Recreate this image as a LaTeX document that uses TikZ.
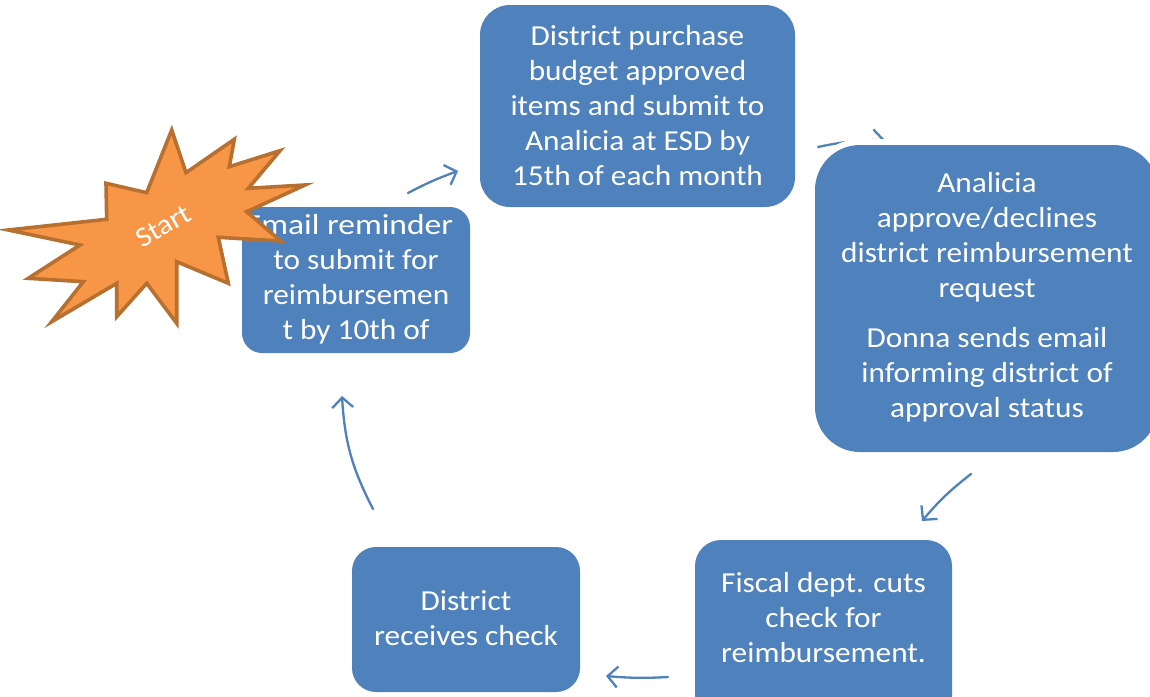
\documentclass[tikz,border=0pt]{standalone}
\usepackage{fontspec}
\setmainfont{Carlito}[FakeStretch=1.08]
\usetikzlibrary{arrows.meta}
\definecolor{boxblue}{HTML}{4F81BD}
\definecolor{starfill}{HTML}{F79646}
\definecolor{starline}{HTML}{B7702F}
\tikzset{
  stepbox/.style={fill=boxblue, preaction={draw=white, line width=12pt}, inner sep=0pt},
  boxtext/.style={text=white, align=center, font=\fontsize{29}{35}\selectfont, inner sep=0pt},
  flow/.style={draw=boxblue, line width=2.3pt, line cap=round, -{Straight Barb[length=10pt,width=21pt]}},
}
\begin{document}
\begin{tikzpicture}[x=1pt,y=-1pt]
\useasboundingbox (0,0) rectangle (1150,696);
\clip (0,0) rectangle (1150,696);
\fill[white] (0,0) rectangle (1150,696);

% connector end points
\coordinate (a1s) at (408,193);
\coordinate (a1e) at (458,171);
\coordinate (a2s) at (818,147);
\coordinate (a2e) at (885,140);
\coordinate (a3s) at (971,474);
\coordinate (a3e) at (922,521);
\coordinate (a4s) at (668,677);
\coordinate (a4e) at (606,676);
\coordinate (a5s) at (373,509);
\coordinate (a5e) at (342,396);

% connectors (drawn beneath the boxes)
\draw[flow] (a1s) to[bend left=4] (a1e);
\draw[flow] (a2s) to[bend left=6] (a2e);
\draw[flow] (a3s) to[bend right=6] (a3e);
\draw[flow] (a4s) to[bend left=4] (a4e);
\draw[flow] (a5s) to[bend left=12] (a5e);

% boxes
\node[stepbox, rounded corners=30pt, minimum width=315pt, minimum height=202pt] (purchase) at (637.5,106) {};
\node[boxtext] (purchasetext) at (637.5,106)
  {District purchase\\budget approved\\items and submit to\\Analicia at ESD by\\15th of each month};

\node[stepbox, rounded corners=45pt, minimum width=343pt, minimum height=307pt] (approve) at (986.5,298.5) {};
\node[boxtext] (approvetext) at (987,297)
  {Analicia\\approve/declines\\district reimbursement\\request\\[15pt]Donna sends email\\informing district of\\approval status};

\node[stepbox, rounded corners=26pt, minimum width=257pt, minimum height=190pt] (fiscal) at (823.5,635) {};
\node[boxtext] (fiscaltext) at (823.5,618)
  {Fiscal dept. cuts\\check for\\reimbursement.};

\node[stepbox, rounded corners=24pt, minimum width=228pt, minimum height=145pt] (receive) at (466,619.5) {};
\node[boxtext] (receivetext) at (466,618)
  {District\\receives check};

\node[stepbox, rounded corners=20pt, minimum width=228pt, minimum height=146pt] (remind) at (356,280) {};
\node[boxtext] (remindtext) at (356,279)
  {\hspace*{-14pt}\scalebox{1.07}[1]{Email reminder}\\to submit for\\reimbursemen\\t by 10th of};

% start star
\filldraw[fill=starfill, draw=starline, line width=3.6pt, line join=miter]
  (171.7,130) -- (186,172.7) -- (234.3,139.3) -- (229.3,166.7) -- (280,150.7)
  -- (248.3,188.3) -- (305,185) -- (246.7,211.7) -- (280.5,241) -- (218.3,237.3)
  -- (228.3,283.3) -- (176.7,261.7) -- (176.7,323.3) -- (146.7,283.3)
  -- (116.7,316.7) -- (116.7,283.3) -- (51.7,321.7) -- (83.3,281.7)
  -- (28.3,278.3) -- (80,245) -- (8.3,230) -- (106.7,219.3) -- (106,183.3)
  -- (146.7,192.7) -- cycle;
\node[text=white, rotate=30, font=\fontsize{28}{30}\selectfont, inner sep=0pt] (start) at (163,226) {Start};
\end{tikzpicture}
\end{document}
